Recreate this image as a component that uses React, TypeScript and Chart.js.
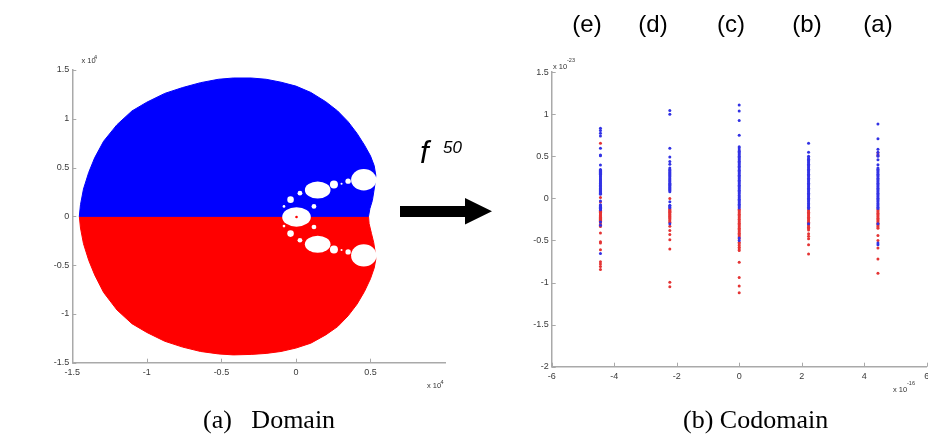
import React, { useEffect, useRef } from "react";
import { Chart, registerables } from "chart.js";
Chart.register(...registerables);

// ---------- Left chart (Domain) data ----------
const leftXTicks = [-1.5, -1, -0.5, 0, 0.5];
const leftYTicks = [-1.5, -1, -0.5, 0, 0.5, 1, 1.5];

const domainTopX = [-1.453, -1.445, -1.425, -1.39, -1.35, -1.29, -1.2, -1.1, -1.0, -0.88, -0.76, -0.64, -0.52, -0.42, -0.3, -0.2, -0.1, 0.0, 0.1, 0.2, 0.28, 0.35, 0.41, 0.46, 0.5, 0.525, 0.536, 0.53, 0.522, 0.513, 0.496, 0.487];
const domainTopY = [0, 0.12, 0.28, 0.45, 0.6, 0.77, 0.94, 1.08, 1.17, 1.26, 1.32, 1.37, 1.405, 1.418, 1.418, 1.405, 1.375, 1.335, 1.27, 1.175, 1.08, 0.97, 0.85, 0.73, 0.62, 0.52, 0.42, 0.33, 0.25, 0.164, 0.078, 0];
const domainBottomX = [-1.453, -1.445, -1.425, -1.39, -1.35, -1.29, -1.2, -1.1, -1.0, -0.88, -0.76, -0.64, -0.52, -0.42, -0.3, -0.2, -0.1, 0.0, 0.1, 0.2, 0.28, 0.35, 0.41, 0.46, 0.5, 0.525, 0.536, 0.53, 0.522, 0.507, 0.491, 0.487];
const domainBottomY = [0, -0.12, -0.28, -0.45, -0.6, -0.78, -0.96, -1.1, -1.19, -1.28, -1.34, -1.385, -1.41, -1.42, -1.415, -1.405, -1.385, -1.35, -1.3, -1.215, -1.13, -1.02, -0.9, -0.77, -0.64, -0.53, -0.44, -0.35, -0.27, -0.177, -0.075, 0];

const holeX = [0.004, 0.146, 0.146, 0.455, 0.455, 0.35, 0.35, 0.255, 0.255, 0.306, 0.306, 0.027, 0.027, -0.036, -0.036, 0.121, 0.121, -0.08, -0.08];
const holeY = [-0.006, 0.27, -0.286, 0.375, -0.4, 0.36, -0.365, 0.327, -0.34, 0.334, -0.345, 0.238, -0.245, 0.171, -0.177, 0.102, -0.109, 0.102, -0.1];
const holeRX = [0.096, 0.086, 0.086, 0.085, 0.085, 0.018, 0.018, 0.027, 0.027, 0.007, 0.007, 0.016, 0.016, 0.022, 0.022, 0.016, 0.016, 0.009, 0.009];
const holeRY = [0.1, 0.088, 0.088, 0.11, 0.115, 0.027, 0.027, 0.041, 0.041, 0.011, 0.011, 0.024, 0.024, 0.034, 0.034, 0.024, 0.024, 0.014, 0.014];

const dotX = [0.004];
const dotY = [-0.006];

// ---------- Right chart (Codomain) data ----------
const rightXTicks = [-6, -4, -2, 0, 2, 4, 6];
const rightYTicks = [-2, -1.5, -1, -0.5, 0, 0.5, 1, 1.5];
const colX = [-4.44, -2.22, 0, 2.22, 4.44];
const colLabels = ["(e)", "(d)", "(c)", "(b)", "(a)"];

const blueE = [0.833, 0.806, 0.774, 0.742, 0.595, 0.516, 0.508, 0.397, 0.345, 0.336, 0.322, 0.311, 0.3, 0.288, 0.279, 0.266, 0.256, 0.243, 0.232, 0.221, 0.209, 0.198, 0.186, 0.176, 0.163, 0.152, 0.141, 0.128, 0.118, 0.106, 0.095, 0.083, 0.071, 0.061, 0.05, -0.03, -0.074, -0.084, -0.095, -0.104, -0.116, -0.125, -0.136, -0.28, -0.32, -0.655];
const redE = [0.655, 0.01, -0.042, -0.142, -0.152, -0.163, -0.172, -0.183, -0.193, -0.204, -0.214, -0.225, -0.236, -0.247, -0.259, -0.27, -0.29, -0.31, -0.335, -0.41, -0.516, -0.53, -0.61, -0.754, -0.78, -0.81, -0.845];
const blueD = [1.044, 1.0, 0.595, 0.492, 0.44, 0.405, 0.36, 0.345, 0.331, 0.318, 0.306, 0.292, 0.281, 0.268, 0.256, 0.243, 0.231, 0.219, 0.206, 0.194, 0.181, 0.168, 0.156, 0.143, 0.131, 0.119, 0.106, 0.094, 0.08, -0.04, -0.08, -0.091, -0.102, -0.112, -0.3];
const redD = [0.0, -0.122, -0.132, -0.143, -0.153, -0.164, -0.174, -0.185, -0.195, -0.206, -0.216, -0.227, -0.24, -0.254, -0.267, -0.282, -0.33, -0.38, -0.43, -0.49, -0.6, -0.996, -1.05];
const blueC = [1.11, 1.04, 0.925, 0.75, 0.615, 0.6, 0.576, 0.562, 0.546, 0.531, 0.517, 0.502, 0.486, 0.471, 0.457, 0.441, 0.426, 0.412, 0.396, 0.381, 0.366, 0.351, 0.336, 0.321, 0.306, 0.291, 0.276, 0.261, 0.246, 0.231, 0.216, 0.201, 0.186, 0.171, 0.156, 0.141, 0.126, 0.111, 0.096, 0.081, 0.066, 0.051, 0.036, 0.021, 0.006, -0.009, -0.024, -0.039, -0.054, -0.069, -0.084, -0.099, -0.114, -0.47, -0.5];
const redC = [-0.129, -0.144, -0.159, -0.174, -0.189, -0.204, -0.219, -0.234, -0.249, -0.264, -0.279, -0.294, -0.309, -0.324, -0.339, -0.354, -0.369, -0.384, -0.399, -0.414, -0.429, -0.444, -0.459, -0.48, -0.52, -0.54, -0.56, -0.58, -0.6, -0.62, -0.76, -0.94, -1.04, -1.12];
const blueB = [0.655, 0.55, 0.5, 0.48, 0.466, 0.451, 0.436, 0.421, 0.406, 0.391, 0.376, 0.361, 0.346, 0.331, 0.316, 0.301, 0.286, 0.271, 0.256, 0.241, 0.226, 0.211, 0.196, 0.181, 0.166, 0.151, 0.136, 0.121, 0.106, 0.091, 0.076, 0.061, 0.046, 0.031, 0.016, 0.001, -0.014, -0.029, -0.044, -0.059, -0.074, -0.089, -0.104, -0.119, -0.3];
const redB = [-0.134, -0.149, -0.164, -0.179, -0.194, -0.209, -0.224, -0.239, -0.254, -0.269, -0.284, -0.299, -0.314, -0.329, -0.344, -0.359, -0.374, -0.42, -0.45, -0.48, -0.55, -0.66];
const blueA = [0.885, 0.71, 0.585, 0.55, 0.52, 0.5, 0.46, 0.4, 0.361, 0.346, 0.331, 0.316, 0.301, 0.286, 0.271, 0.256, 0.241, 0.226, 0.211, 0.196, 0.181, 0.166, 0.151, 0.136, 0.121, 0.106, 0.091, 0.076, 0.061, 0.046, 0.031, 0.016, 0.001, -0.014, -0.029, -0.044, -0.059, -0.074, -0.089, -0.104, -0.119, -0.3, -0.53, -0.55];
const redA = [0.54, 0.51, -0.131, -0.146, -0.161, -0.176, -0.191, -0.206, -0.221, -0.236, -0.251, -0.266, -0.281, -0.296, -0.311, -0.326, -0.341, -0.356, -0.44, -0.5, -0.59, -0.72, -0.89];

const blueCols = [blueE, blueD, blueC, blueB, blueA];
const redCols = [redE, redD, redC, redB, redA];

// ---------- styling ----------
const SANS = "'Liberation Sans', Arial, sans-serif";
const SERIF = "'Liberation Serif', 'Times New Roman', serif";
const AXIS_COLOR = "#a9a9a9";
const BLUE = "#0000ff";
const RED = "#ff0000";
const PT_BLUE = "rgb(50,50,228)";
const PT_RED = "rgb(228,52,52)";

function makeAxis(min: number, max: number, tickVals: number[], isY: boolean, thickness: number) {
  return {
    type: "linear",
    min,
    max,
    border: { display: true, color: AXIS_COLOR, width: 1.5 },
    grid: { display: false, drawTicks: false },
    ticks: {
      color: "#3a3a3a",
      font: { family: SANS, size: 9 },
      padding: isY ? 3 : 4,
      autoSkip: false,
      maxRotation: 0,
      callback: (v: number) => String(v),
    },
    afterBuildTicks: (s: any) => {
      s.ticks = tickVals.map((v) => ({ value: v }));
    },
    afterFit: (s: any) => {
      if (isY) s.width = thickness;
      else s.height = thickness;
    },
  };
}

const inwardTicks = {
  id: "inwardTicks",
  afterDraw(chart: any) {
    const { ctx, chartArea: a, scales } = chart;
    ctx.save();
    ctx.strokeStyle = AXIS_COLOR;
    ctx.lineWidth = 1;
    scales.x.ticks.forEach((t: any) => {
      const p = Math.round(scales.x.getPixelForValue(t.value)) + 0.5;
      ctx.beginPath();
      ctx.moveTo(p, a.bottom);
      ctx.lineTo(p, a.bottom - 4);
      ctx.stroke();
    });
    scales.y.ticks.forEach((t: any) => {
      const p = Math.round(scales.y.getPixelForValue(t.value)) + 0.5;
      ctx.beginPath();
      ctx.moveTo(a.left, p);
      ctx.lineTo(a.left + 4, p);
      ctx.stroke();
    });
    ctx.restore();
  },
};

const holesPlugin = {
  id: "holes",
  afterDatasetDraw(chart: any, args: any) {
    if (args.index !== 1) return;
    const { ctx } = chart;
    const x = chart.scales.x;
    const y = chart.scales.y;
    ctx.save();
    ctx.fillStyle = "#ffffff";
    holeX.forEach((hx, i) => {
      const cx = x.getPixelForValue(hx);
      const cy = y.getPixelForValue(holeY[i]);
      const rx = Math.abs(x.getPixelForValue(hx + holeRX[i]) - cx);
      const ry = Math.abs(y.getPixelForValue(holeY[i] + holeRY[i]) - cy);
      ctx.beginPath();
      ctx.ellipse(cx, cy, rx, ry, 0, 0, Math.PI * 2);
      ctx.fill();
    });
    ctx.restore();
  },
};

function polygon(xs: number[], ys: number[]) {
  const pts = xs.map((x, i) => ({ x, y: ys[i] }));
  return [...pts, pts[0]];
}

function LeftChart() {
  const ref = useRef<HTMLCanvasElement>(null);
  useEffect(() => {
    const chart = new Chart(ref.current as HTMLCanvasElement, {
      type: "scatter",
      data: {
        datasets: [
          { data: dotX.map((x, i) => ({ x, y: dotY[i] })), pointRadius: 1.3, backgroundColor: RED, borderWidth: 0 },
          { data: polygon(domainTopX, domainTopY), showLine: true, fill: "shape", backgroundColor: BLUE, borderColor: BLUE, borderWidth: 1, pointRadius: 0, tension: 0 },
          { data: polygon(domainBottomX, domainBottomY), showLine: true, fill: "shape", backgroundColor: RED, borderColor: RED, borderWidth: 1, pointRadius: 0, tension: 0 },
        ],
      },
      options: {
        responsive: false,
        animation: false,
        events: [],
        layout: { padding: { left: 32.3, right: 15, top: 70, bottom: 17.3 } },
        plugins: { legend: { display: false }, tooltip: { enabled: false } },
        scales: {
          x: makeAxis(-1.5, 1, leftXTicks, false, 20),
          y: makeAxis(-1.5, 1.5, leftYTicks, true, 40),
        },
      } as any,
      plugins: [holesPlugin, inwardTicks],
    } as any);
    return () => chart.destroy();
  }, []);
  return <canvas ref={ref} width={460} height={400} style={{ position: "absolute", left: 0, top: 0, width: 460, height: 400 }} />;
}

function RightChart() {
  const ref = useRef<HTMLCanvasElement>(null);
  useEffect(() => {
    const bluePts: { x: number; y: number }[] = [];
    const redPts: { x: number; y: number }[] = [];
    colX.forEach((cx, i) => {
      blueCols[i].forEach((v) => bluePts.push({ x: cx, y: v }));
      redCols[i].forEach((v) => redPts.push({ x: cx, y: v }));
    });
    const chart = new Chart(ref.current as HTMLCanvasElement, {
      type: "scatter",
      data: {
        datasets: [
          { data: bluePts, pointRadius: 1.5, backgroundColor: PT_BLUE, borderWidth: 0 },
          { data: redPts, pointRadius: 1.5, backgroundColor: PT_RED, borderWidth: 0 },
        ],
      },
      options: {
        responsive: false,
        animation: false,
        events: [],
        layout: { padding: { left: 41.7, right: 8.3, top: 72.2, bottom: 13.3 } },
        plugins: { legend: { display: false }, tooltip: { enabled: false } },
        scales: {
          x: makeAxis(-6, 6, rightXTicks, false, 20),
          y: makeAxis(-2, 1.5, rightYTicks, true, 40),
        },
      } as any,
      plugins: [inwardTicks],
    } as any);
    return () => chart.destroy();
  }, []);
  return <canvas ref={ref} width={465} height={400} style={{ position: "absolute", left: 470, top: 0, width: 465, height: 400 }} />;
}

function Txt(props: { x: number; base: number; size: number; serif?: boolean; italic?: boolean; center?: boolean; children: React.ReactNode; color?: string }) {
  const { x, base, size, serif, italic, center, children, color } = props;
  const k = serif ? 0.8375 : 0.8465;
  return (
    <div
      style={{
        position: "absolute",
        left: x,
        top: base - k * size,
        fontFamily: serif ? SERIF : SANS,
        fontSize: size,
        lineHeight: `${size}px`,
        fontStyle: italic ? "italic" : "normal",
        whiteSpace: "pre",
        color: color || "#000",
        transform: center ? "translateX(-50%)" : undefined,
      }}
    >
      {children}
    </div>
  );
}

const colLabelCenters = [587, 653, 731, 807, 878];

export default function App() {
  return (
    <div style={{ position: "fixed", left: 0, top: 0, width: 928, height: 435, overflow: "hidden", background: "#fff" }}>
      <LeftChart />
      <RightChart />
      {/* exponent labels */}
      <Txt x={81.5} base={63.5} size={7.5} color="#333">x 10</Txt>
      <Txt x={94} base={59.5} size={5.5} color="#333">4</Txt>
      <Txt x={427} base={388.5} size={7.5} color="#333">x 10</Txt>
      <Txt x={440.5} base={384.5} size={5.5} color="#333">4</Txt>
      <Txt x={553} base={69} size={7.5} color="#333">x 10</Txt>
      <Txt x={567} base={62.5} size={5.5} color="#333">-23</Txt>
      <Txt x={893} base={392.5} size={7.5} color="#333">x 10</Txt>
      <Txt x={907} base={386} size={5.5} color="#333">-16</Txt>
      {/* column labels */}
      {colLabels.map((l, i) => (
        <Txt key={l} x={colLabelCenters[i]} base={32} size={24} center>
          {l}
        </Txt>
      ))}
      {/* mapping annotation */}
      <Txt x={420} base={163} size={31} italic>f</Txt>
      <Txt x={443} base={153} size={17} italic>50</Txt>
      <svg width={928} height={435} style={{ position: "absolute", left: 0, top: 0 }}>
        <polygon points="400,206 465,206 465,198 492,211.3 465,224.5 465,217 400,217" fill="#000" />
      </svg>
      {/* captions */}
      <Txt x={203} base={429} size={26} serif>(a)   Domain</Txt>
      <Txt x={683} base={429} size={26} serif>(b) Codomain</Txt>
    </div>
  );
}
